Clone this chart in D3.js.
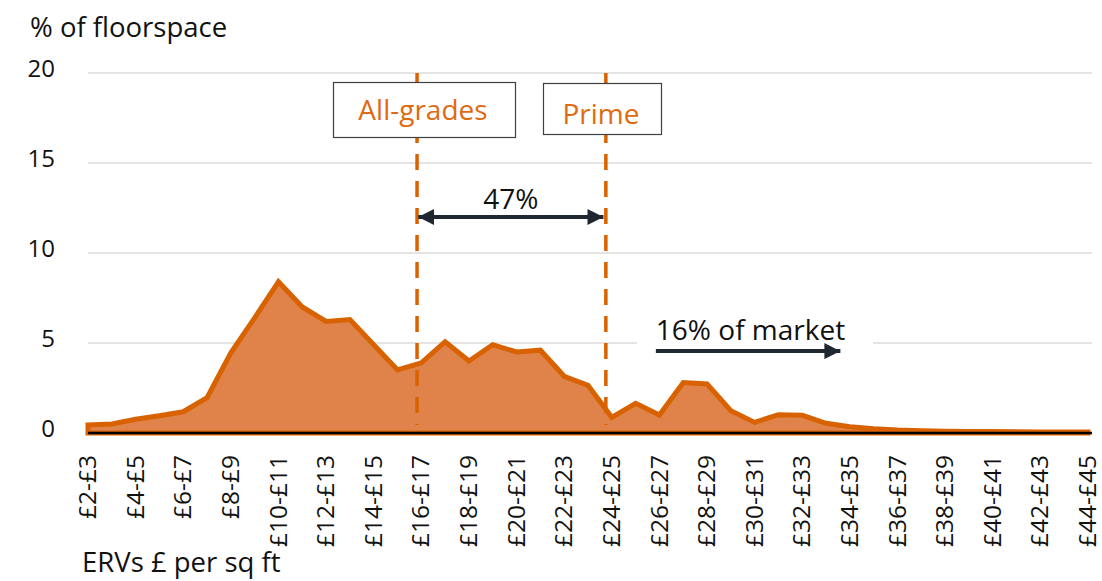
<!DOCTYPE html>
<html>
<head>
<meta charset="utf-8">
<script src="https://cdn.jsdelivr.net/npm/d3@7"></script>
<style>
  html, body { margin: 0; padding: 0; background: #fff; }
  svg { display: block; }
  text { font-family: "Open Sans", "Noto Sans", sans-serif; }
</style>
</head>
<body>
<svg id="chart" width="1102" height="581"></svg>
<script>
// ---- data ----
const categories = [
  "£2-£3","£3-£4","£4-£5","£5-£6","£6-£7","£7-£8","£8-£9","£9-£10","£10-£11","£11-£12",
  "£12-£13","£13-£14","£14-£15","£15-£16","£16-£17","£17-£18","£18-£19","£19-£20","£20-£21","£21-£22",
  "£22-£23","£23-£24","£24-£25","£25-£26","£26-£27","£27-£28","£28-£29","£29-£30","£30-£31","£31-£32",
  "£32-£33","£33-£34","£34-£35","£35-£36","£36-£37","£37-£38","£38-£39","£39-£40","£40-£41","£41-£42",
  "£42-£43","£43-£44","£44-£45"
];
const floorspacePct = [
  0.45, 0.5, 0.76, 0.96, 1.18, 1.96, 4.45, 6.4, 8.4, 7.0,
  6.2, 6.3, 4.9, 3.5, 3.9, 5.07, 4.0, 4.9, 4.5, 4.6,
  3.15, 2.65, 0.87, 1.65, 1.0, 2.8, 2.72, 1.24, 0.59, 1.02,
  0.98, 0.54, 0.35, 0.24, 0.17, 0.13, 0.1, 0.09, 0.08, 0.07,
  0.06, 0.05, 0.05
];
const yTicks = [0, 5, 10, 15, 20];
// marker positions in category-index units
const markers = [
  { label: "All-grades", pos: 13.82 },
  { label: "Prime", pos: 21.75 }
];
const spreadArrow = { label: "47%", from: 13.87, to: 21.65, value: 12.0 };
const marketArrow = { label: "16% of market", from: 23.85, to: 31.6, value: 4.55 };

// ---- layout ----
const svg = d3.select("#chart");
const x = d3.scalePoint().domain(categories).range([88, 1088]);
const xi = d3.scaleLinear().domain([0, categories.length - 1]).range([88, 1088]);
const y = d3.scaleLinear().domain([0, 20]).range([433, 73]);

const ORANGE = "#D96200";
const FILL = "#E0834A";
const DARK = "#1F2830";

// gridlines
svg.append("g").selectAll("line").data(yTicks.filter(d => d > 0)).join("line")
  .attr("x1", 88).attr("x2", 1092)
  .attr("y1", d => y(d)).attr("y2", d => y(d))
  .attr("stroke", "#C9C9C9").attr("stroke-width", 1);

// y tick labels
svg.append("g").selectAll("text").data(yTicks).join("text")
  .attr("x", 55).attr("y", d => y(d) + 3.5)
  .attr("text-anchor", "end")
  .attr("font-size", 24).attr("fill", "#111")
  .text(d => d);

// y title
svg.append("text").attr("x", 30).attr("y", 37)
  .attr("font-size", 27.5).attr("fill", "#111").text("% of floorspace");

// area
const area = d3.area()
  .x((d, i) => x(categories[i]))
  .y0(y(0))
  .y1(d => y(d));
svg.append("path").datum(floorspacePct)
  .attr("d", area)
  .attr("fill", FILL)
  .attr("stroke", ORANGE)
  .attr("stroke-width", 5)
  .attr("stroke-linejoin", "miter");

// dashed marker lines
svg.append("g").selectAll("line").data(markers).join("line")
  .attr("x1", d => xi(d.pos)).attr("x2", d => xi(d.pos))
  .attr("y1", y(20)).attr("y2", y(0) - 8)
  .attr("stroke", ORANGE).attr("stroke-width", 3.5)
  .attr("stroke-dasharray", "16,11");

// boxes
const boxes = [
  { m: markers[0], x0: 333, x1: 515, y0: 82, y1: 137, ty: 120 },
  { m: markers[1], x0: 543, x1: 661, y0: 83, y1: 134, ty: 124 }
];
const bg = svg.append("g");
bg.selectAll("rect").data(boxes).join("rect")
  .attr("x", d => d.x0 + 0.5).attr("y", d => d.y0 + 0.5)
  .attr("width", d => d.x1 - d.x0).attr("height", d => d.y1 - d.y0)
  .attr("fill", "#fff").attr("stroke", "#404040").attr("stroke-width", 1.2);
bg.selectAll("text").data(boxes).join("text")
  .attr("x", d => (d.x0 + d.x1) / 2 - 1).attr("y", d => d.ty)
  .attr("text-anchor", "middle")
  .attr("font-size", 28).attr("fill", "#E06A10")
  .text(d => d.m.label);

// arrow markers
const defs = svg.append("defs");
defs.append("marker").attr("id", "ah").attr("markerUnits", "userSpaceOnUse")
  .attr("viewBox", "0 0 16 16").attr("refX", 16).attr("refY", 8)
  .attr("markerWidth", 16).attr("markerHeight", 16).attr("orient", "auto-start-reverse")
  .append("path").attr("d", "M0,0 L16,8 L0,16 Z").attr("fill", DARK);

// 47% arrow
svg.append("line")
  .attr("x1", xi(spreadArrow.from)).attr("x2", xi(spreadArrow.to))
  .attr("y1", y(spreadArrow.value)).attr("y2", y(spreadArrow.value))
  .attr("stroke", DARK).attr("stroke-width", 4)
  .attr("marker-start", "url(#ah)").attr("marker-end", "url(#ah)");
svg.append("text")
  .attr("x", (xi(spreadArrow.from) + xi(spreadArrow.to)) / 2).attr("y", 209)
  .attr("text-anchor", "middle").attr("font-size", 28).attr("fill", "#111")
  .text(spreadArrow.label);

// 16% arrow with white label background
svg.append("rect").attr("x", 637).attr("y", 312).attr("width", 236).attr("height", 35)
  .attr("fill", "#fff");
svg.append("text").attr("x", xi(marketArrow.from)).attr("y", 340)
  .attr("font-size", 28).attr("fill", "#111")
  .text(marketArrow.label);
svg.append("line")
  .attr("x1", xi(marketArrow.from)).attr("x2", xi(marketArrow.to))
  .attr("y1", y(marketArrow.value)).attr("y2", y(marketArrow.value))
  .attr("stroke", DARK).attr("stroke-width", 4)
  .attr("marker-end", "url(#ah)");

// x axis baseline
svg.append("line").attr("x1", 88).attr("x2", 1092)
  .attr("y1", y(0)).attr("y2", y(0))
  .attr("stroke", "#000").attr("stroke-width", 2.5);

// x tick labels (every other category)
svg.append("g").selectAll("text")
  .data(categories.filter((d, i) => i % 2 === 0)).join("text")
  .attr("transform", d => `translate(${x(d)},455) rotate(-90)`)
  .attr("text-anchor", "end").attr("dy", "0.33em")
  .attr("font-size", 24.5).attr("fill", "#111")
  .text(d => d);

// x title
svg.append("text").attr("x", 82).attr("y", 572)
  .attr("font-size", 27.5).attr("fill", "#111").text("ERVs £ per sq ft");
</script>
</body>
</html>
